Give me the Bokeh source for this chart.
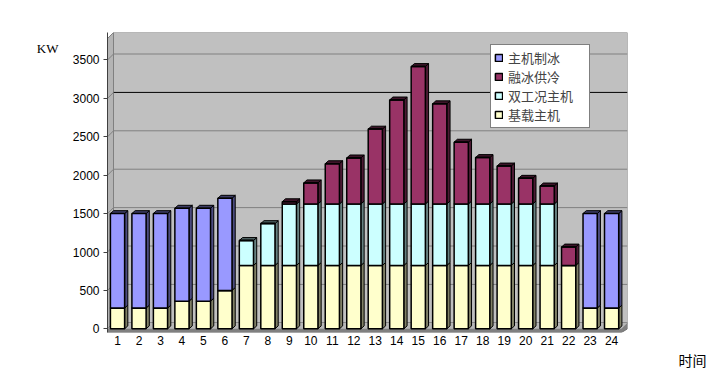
from bokeh.plotting import figure
from bokeh.models import (Range1d, FixedTicker, Legend, LegendItem, ColumnDataSource,
                          LinearAxis, Title)
from bokeh.embed import file_html
from bokeh.resources import INLINE

# ---- data ----
hours = list(range(1, 25))
base_load = [270, 270, 270, 360, 360, 500, 825, 825, 825, 825, 825, 825,
             825, 825, 825, 825, 825, 825, 825, 825, 825, 825, 270, 270]   # 基载主机
dual_chiller = [0, 0, 0, 0, 0, 0, 325, 545, 800, 800, 800, 800,
                800, 800, 800, 800, 800, 800, 800, 800, 800, 0, 0, 0]      # 双工况主机
ice_melt = [0, 0, 0, 0, 0, 0, 0, 0, 30, 275, 525, 600,
            975, 1355, 1790, 1305, 805, 605, 495, 335, 235, 240, 0, 0]     # 融冰供冷
ice_make = [1230, 1230, 1230, 1210, 1210, 1200, 0, 0, 0, 0, 0, 0,
            0, 0, 0, 0, 0, 0, 0, 0, 0, 0, 1230, 1230]                     # 主机制冰
series_names = ["基载主机", "双工况主机", "融冰供冷", "主机制冰"]
y_ticks = [0, 500, 1000, 1500, 2000, 2500, 3000, 3500]
y_unit_label = "KW"
x_unit_label = "时间"

# ---- styling ----
front_colors = ["#FFFFCC", "#CCFFFF", "#993366", "#9999FF"]
side_colors = ["#808066", "#668080", "#4C1A33", "#4C4C80"]
top_colors = ["#666652", "#526666", "#3D1429", "#3D3D66"]
bar_w = 0.66
dx, dy = 0.15, 38          # bar depth offsets (data units)
bdx, bdy = 0.28, 78        # back wall offsets (data units)
x0, x1 = 0.534, 24.74
y0, y1 = -48, 3858
unit_y = 3650              # where the unit label sits on the y scale

p = figure(width=709, height=371, output_backend="svg", toolbar_location=None,
           x_range=Range1d(x0, x1), y_range=Range1d(y0, y1),
           min_border_left=107, min_border_right=82, min_border_top=32, min_border_bottom=39)
p.outline_line_color = None
p.background_fill_color = "white"
p.border_fill_color = "white"
p.xgrid.visible = False
p.ygrid.visible = False

# walls and floor
p.patch([bdx + x0, x1, x1, bdx + x0], [bdy, bdy, y1, y1], fill_color="#C0C0C0",
        line_color="#808080", line_width=1)
p.patch([x0, x0 + bdx, x0 + bdx, x0], [0, bdy, y1, y1 - bdy], fill_color="#B4B4B4",
        line_color="#808080", line_width=1)
p.patch([x0, x1 - bdx, x1, x1, x0 + bdx, x0], [y0, y0, 0, bdy, bdy, 0],
        fill_color="#808080", line_color="#707070", line_width=1)
p.patch([x0, x1 - bdx, x1, x0 + bdx], [0, 0, bdy, bdy],
        fill_color="#B8B8B8", line_color=None)

# gridlines on back and side walls
grid_vals = [t for t in y_ticks if t > 0]
grid_cols = ["black" if t == 3000 else "#808080" for t in grid_vals]
p.segment(x0=[x0 + bdx] * len(grid_vals), y0=[t + bdy for t in grid_vals],
          x1=[x1] * len(grid_vals), y1=[t + bdy for t in grid_vals],
          line_color=grid_cols, line_width=1)
p.segment(x0=[x0] * len(grid_vals), y0=grid_vals,
          x1=[x0 + bdx] * len(grid_vals), y1=[t + bdy for t in grid_vals],
          line_color="#808080", line_width=1)

# 3D side faces and top caps
stacks = [base_load, dual_chiller, ice_melt, ice_make]
side_xs, side_ys, side_c = [], [], []
top_xs, top_ys, top_c = [], [], []
for i, h in enumerate(hours):
    cum = 0
    last = None
    for k, s in enumerate(stacks):
        v = s[i]
        if v <= 0:
            continue
        xr = h + bar_w / 2
        side_xs.append([xr, xr + dx, xr + dx, xr])
        side_ys.append([cum, cum + dy, cum + v + dy, cum + v])
        side_c.append(side_colors[k])
        cum += v
        last = k
    xl = h - bar_w / 2
    xr = h + bar_w / 2
    top_xs.append([xl, xl + dx, xr + dx, xr])
    top_ys.append([cum, cum + dy, cum + dy, cum])
    top_c.append(top_colors[last])
p.patches(side_xs, side_ys, fill_color=side_c, line_color="black", line_width=1)
p.patches(top_xs, top_ys, fill_color=top_c, line_color="black", line_width=1)

src = ColumnDataSource(dict(hour=hours, base=base_load, dual=dual_chiller,
                            melt=ice_melt, make=ice_make))
rs = p.vbar_stack(["base", "dual", "melt", "make"], x="hour", width=bar_w,
                  color=front_colors, line_color="black", line_width=1.5, source=src)

legend = Legend(items=[LegendItem(label=series_names[k], renderers=[rs[k]]) for k in [3, 2, 1, 0]],
                location=(383, 204), orientation="vertical",
                label_text_font="Noto Sans CJK SC", label_text_font_size="13px",
                label_text_line_height=1.0,
                label_height=16, label_width=78, glyph_height=9, glyph_width=9,
                label_standoff=5, spacing=0, padding=3, margin=0,
                border_line_color="black", border_line_width=1,
                background_fill_color="white", background_fill_alpha=1)
p.add_layout(legend)

# axes
p.xaxis.ticker = FixedTicker(ticks=hours)
p.xaxis.axis_line_color = None
p.xaxis.major_tick_line_color = None
p.xaxis.major_tick_out = 0
p.xaxis.minor_tick_line_color = None
p.xaxis.major_label_standoff = 3
p.xaxis.major_label_text_font = "Liberation Sans"
p.xaxis.major_label_text_font_size = "12px"
p.xaxis.major_label_text_color = "black"

p.yaxis.ticker = FixedTicker(ticks=y_ticks)
p.yaxis.axis_line_color = "#404040"
p.yaxis.major_tick_out = 4
p.yaxis.major_tick_in = 0
p.yaxis.major_tick_line_color = "#404040"
p.yaxis.minor_tick_line_color = None
p.yaxis.major_label_standoff = 4
p.yaxis.major_label_text_font = "Liberation Sans"
p.yaxis.major_label_text_font_size = "12px"
p.yaxis.major_label_text_color = "black"

# unit label "KW" as a second, bare left axis
unit_axis = LinearAxis(ticker=FixedTicker(ticks=[unit_y]),
                       major_label_overrides={unit_y: y_unit_label},
                       axis_line_color=None, major_tick_line_color=None,
                       minor_tick_line_color=None, major_tick_out=0, major_tick_in=0,
                       major_label_standoff=11, major_label_text_font="Liberation Serif",
                       major_label_text_font_size="13px", major_label_text_color="black")
p.add_layout(unit_axis, "left")

# unit label "时间" as a title below the x axis, right of the plot
p.add_layout(Title(text=x_unit_label, align="right", offset=-79, standoff=0,
                   text_font="Noto Sans CJK SC", text_font_size="14px",
                   text_font_style="normal", text_color="black"), "below")

open("out.html", "w").write(file_html(p, INLINE))
